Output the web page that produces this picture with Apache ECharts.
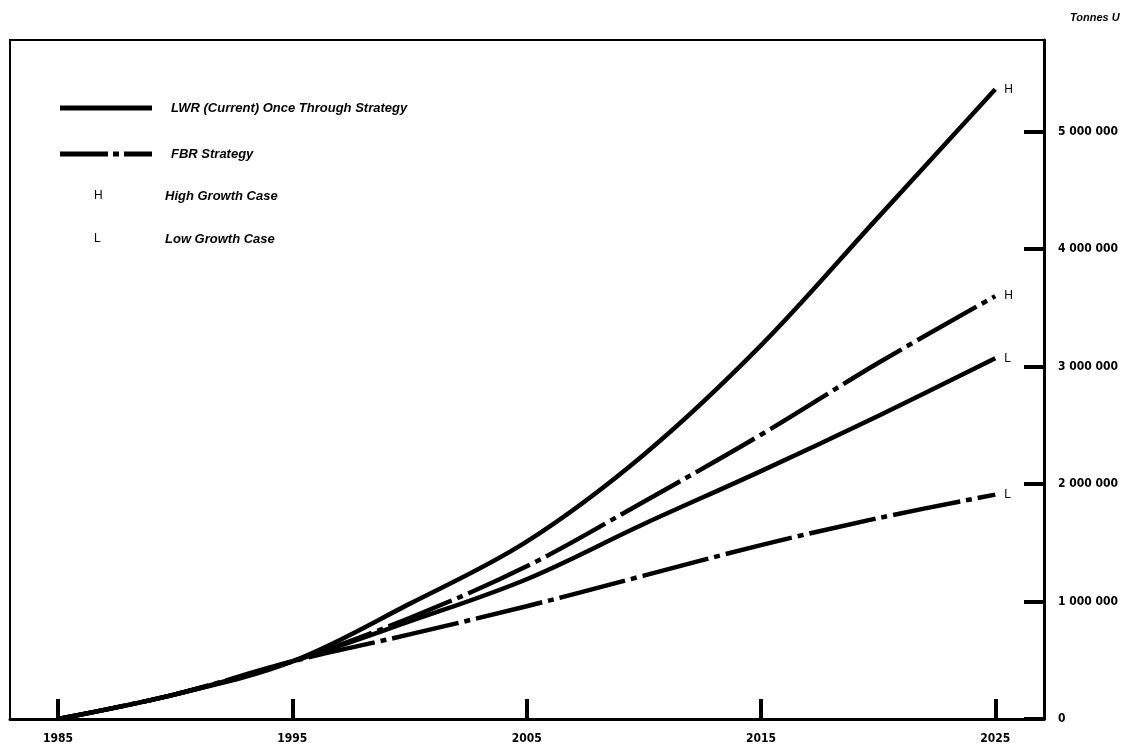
<!DOCTYPE html>
<html>
<head>
<meta charset="utf-8">
<script src="https://cdn.jsdelivr.net/npm/echarts@6/dist/echarts.min.js"></script>
<style>html,body{margin:0;padding:0;background:#fff;}#chart{width:1129px;height:751px;}</style>
</head>
<body>
<div id="chart"></div>
<script>
const years = [1985, 1990, 1995, 2000, 2005, 2010, 2015, 2020, 2025];
const lwrHigh = [0, 210000, 490000, 980000, 1510000, 2250000, 3180000, 4270000, 5360000];
const lwrLow  = [0, 210000, 490000, 830000, 1190000, 1660000, 2110000, 2580000, 3070000];
const fbrHigh = [0, 210000, 490000, 860000, 1300000, 1850000, 2420000, 3030000, 3600000];
const fbrLow  = [0, 210000, 490000, 720000, 960000, 1220000, 1480000, 1710000, 1910000];
const xTicks = [1985, 1995, 2005, 2015, 2025];
const yTicks = [0, 1000000, 2000000, 3000000, 4000000, 5000000];
const lwrName = 'LWR (Current) Once Through Strategy';
const fbrName = 'FBR Strategy';

const pair = arr => years.map((y, i) => [y, arr[i]]);
const fmtNum = v => String(Math.round(v)).replace(/\B(?=(\d{3})+(?!\d))/g, ' ');

const solid = {color: '#000', width: 4.5, type: 'solid'};
const dashdot = {color: '#000', width: 4.5, type: [68, 6, 6, 6], cap: 'butt'};
const endLab = t => ({show: true, formatter: t, distance: 9, color: '#000', fontSize: 12, fontFamily: 'Liberation Sans, Arial, sans-serif'});
const SM = 0.35;

const chart = echarts.init(document.getElementById('chart'), null, {renderer: 'canvas'});
chart.setOption({
  backgroundColor: '#fff',
  animation: false,
  grid: {left: 10, right: 85, top: 40, bottom: 32, show: true, borderColor: '#000', borderWidth: 2, containLabel: false},
  legend: {
    left: 55, top: 96, orient: 'vertical', itemWidth: 92, itemHeight: 5, itemGap: 32,
    data: [
      {name: lwrName, icon: 'rect', itemStyle: {color: '#000'}},
      {name: fbrName, icon: 'path://M0,0H48V5H0Z M53,0H59V5H53Z M64,0H92V5H64Z', itemStyle: {color: '#000'}}
    ],
    textStyle: {color: '#000', fontSize: 13, fontStyle: 'italic', fontWeight: 'bold', fontFamily: 'Liberation Sans, Arial, sans-serif', padding: [0, 0, 0, 14], lineHeight: 14}
  },
  xAxis: {
    type: 'value', min: 1982.95, max: 2027.08,
    splitLine: {show: false},
    axisLine: {show: true, lineStyle: {color: '#000', width: 3}},
    axisTick: {show: true, inside: true, length: 20, customValues: xTicks, lineStyle: {color: '#000', width: 4}},
    axisLabel: {customValues: xTicks, margin: 14, color: '#000', fontSize: 12, fontWeight: 'bold', fontFamily: 'Liberation Sans Narrow, DejaVu Sans Condensed, sans-serif', formatter: v => String(v)}
  },
  yAxis: {
    type: 'value', position: 'right', min: 0, max: 5780000,
    splitLine: {show: false},
    axisLine: {show: true, lineStyle: {color: '#000', width: 3}},
    axisTick: {show: true, inside: true, length: 20, customValues: yTicks, lineStyle: {color: '#000', width: 4}},
    axisLabel: {customValues: yTicks, margin: 14, color: '#000', fontSize: 12, fontWeight: 'bold', fontFamily: 'Liberation Sans Narrow, DejaVu Sans Condensed, sans-serif', formatter: v => fmtNum(v)}
  },
  graphic: [
    {type: 'text', left: 1070, top: 12, style: {text: 'Tonnes U', fill: '#000', font: 'italic bold 11px Liberation Sans, Arial, sans-serif'}},
    {type: 'text', left: 94, top: 190, style: {text: 'H', fill: '#000', font: '12px Liberation Sans, Arial, sans-serif'}},
    {type: 'text', left: 165, top: 190, style: {text: 'High Growth Case', fill: '#000', font: 'italic bold 13px Liberation Sans, Arial, sans-serif'}},
    {type: 'text', left: 94, top: 233, style: {text: 'L', fill: '#000', font: '12px Liberation Sans, Arial, sans-serif'}},
    {type: 'text', left: 165, top: 233, style: {text: 'Low Growth Case', fill: '#000', font: 'italic bold 13px Liberation Sans, Arial, sans-serif'}}
  ],
  series: [
    {name: lwrName, type: 'line', data: pair(lwrHigh), smooth: SM, symbol: 'none', lineStyle: solid, itemStyle: {color: '#000'}, endLabel: endLab('H'), z: 3},
    {name: lwrName, type: 'line', data: pair(lwrLow), smooth: SM, symbol: 'none', lineStyle: solid, itemStyle: {color: '#000'}, endLabel: endLab('L'), z: 3},
    {name: fbrName, type: 'line', data: pair(fbrHigh), smooth: SM, symbol: 'none', lineStyle: dashdot, itemStyle: {color: '#000'}, endLabel: endLab('H'), z: 2},
    {name: fbrName, type: 'line', data: pair(fbrLow), smooth: SM, symbol: 'none', lineStyle: dashdot, itemStyle: {color: '#000'}, endLabel: endLab('L'), z: 2}
  ]
});
</script>
</body>
</html>
